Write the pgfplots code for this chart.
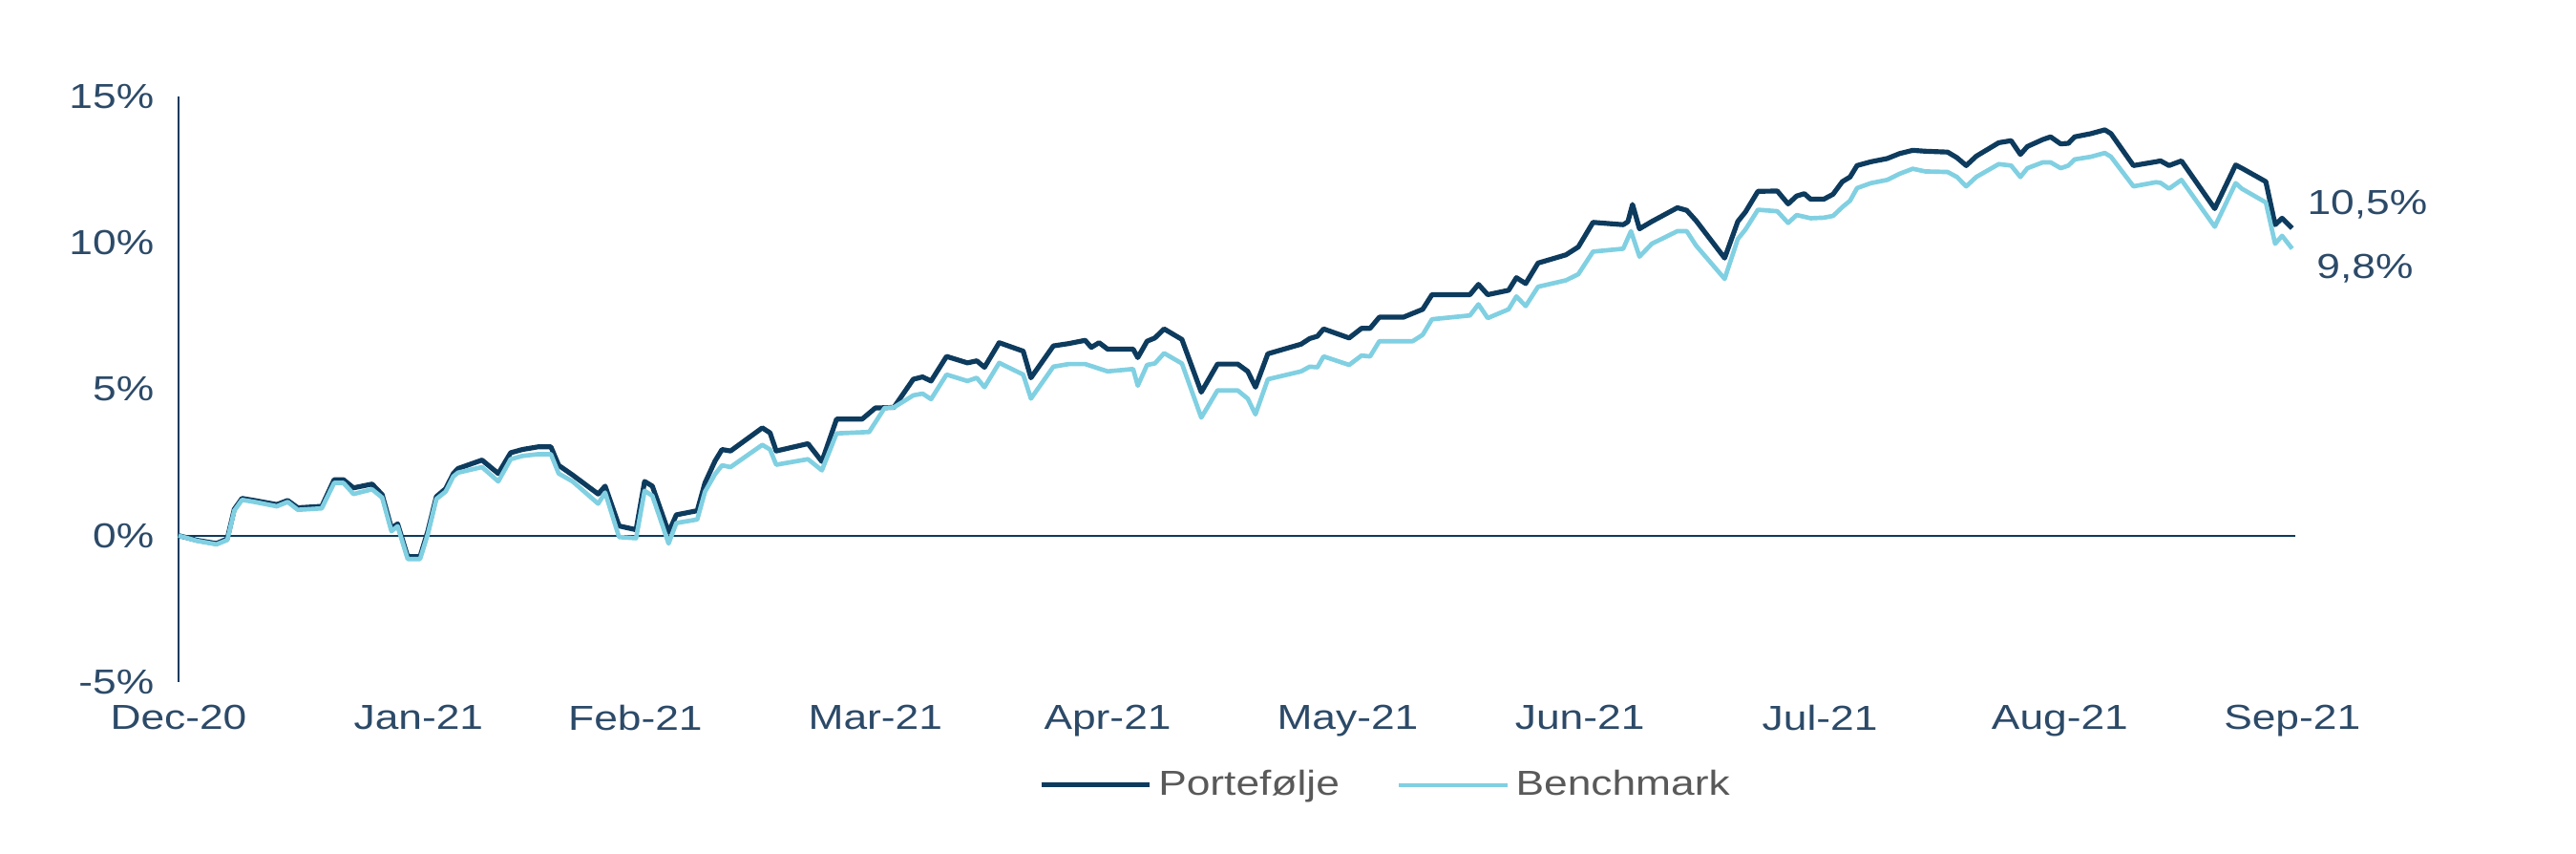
\documentclass[border=0pt]{standalone}
\usepackage{fontspec}
\setmainfont{Liberation Sans}[FakeStretch=1.22]
\usepackage{pgfplots}
\pgfplotsset{compat=1.18}
\definecolor{portcol}{HTML}{0D3B5E}
\definecolor{benchcol}{HTML}{80D0E2}
\definecolor{tickcol}{HTML}{2C4A68}
\definecolor{legcol}{HTML}{595959}
\begin{document}
\begin{tikzpicture}[font=\fontsize{10.9}{13}\selectfont]
\useasboundingbox (-56.1pt,-54pt) rectangle (753.4pt,214.2pt);
\begin{axis}[
  at={(0,0)}, anchor=south west,
  scale only axis, width=664.2pt, height=183.9pt,
  xmin=0, xmax=273, ymin=-5, ymax=15,
  clip=false,
  axis lines*=left,
  x axis line style={draw=none},
  y axis line style={draw=portcol, line width=0.6pt},
  major tick length=0pt,
  xtick={0,31,59,90,120,151,181,212,243,273},
  xticklabels={Dec-20,Jan-21,Feb-21,Mar-21,Apr-21,May-21,Jun-21,Jul-21,Aug-21,Sep-21},
  ytick={-5,0,5,10,15},
  yticklabels={-5\%,0\%,5\%,10\%,15\%},
  /pgf/number format/assume math mode=true,
  every tick label/.append style={text=tickcol, font=\fontsize{10.9}{13}\selectfont},
  xticklabel style={yshift=-3.8pt},
  yticklabel style={xshift=-4.2pt},
  legend columns=2,
  legend style={at={(0.572,0)}, anchor=center, yshift=-32.4pt, draw=none, fill=none,
    text=legcol, font=\fontsize{10.9}{13}\selectfont,
    /tikz/every even column/.append style={column sep=16pt}},
  legend image code/.code={\draw[#1] (0pt,0pt) -- (34pt,0pt);},
]
\addplot[portcol, line width=0.6pt, forget plot] coordinates {(0,0) (273.4,0)};
\addplot[portcol, line width=1.55pt, line join=round] coordinates {
(0,0) (2.4,-0.16) (4.9,-0.27) (6.3,-0.11) (7.2,0.9) (8.2,1.27) (9.8,1.2) (12.7,1.06) (14.1,1.2) (15.4,0.95)
(18.5,1.0) (20.1,1.91) (21.3,1.91) (22.6,1.63) (25.0,1.76) (26.3,1.4) (27.5,0.25) (28.3,0.4) (29.6,-0.72) (31.2,-0.72)
(32.2,0.15) (33.3,1.33) (34.5,1.6) (35.5,2.12) (36.1,2.29) (39.2,2.58) (41.3,2.12) (42.9,2.83) (44.4,2.94) (46.4,3.03)
(48.1,3.03) (49.1,2.40) (50.9,2.07) (54.2,1.42) (55.1,1.69) (56.9,0.33) (59.1,0.2) (60.2,1.85) (61.2,1.69) (63.3,0.11)
(64.3,0.71) (67.0,0.85) (68.0,1.80) (69.3,2.55) (70.2,2.94) (71.3,2.89) (75.4,3.68) (76.4,3.51) (77.2,2.89) (81.3,3.14)
(83.1,2.53) (85.0,3.98) (88.3,3.98) (90.0,4.36) (92.4,4.38) (94.9,5.34) (96.1,5.42) (97.2,5.28) (99.2,6.12) (101.9,5.90)
(103.1,5.97) (104.1,5.75) (106.0,6.59) (109.1,6.30) (110.1,5.39) (113.0,6.48) (115.0,6.56) (117.1,6.67) (117.9,6.43) (118.9,6.59)
(120.0,6.37) (123.3,6.37) (123.9,6.08) (125.1,6.64) (126.1,6.75) (127.3,7.06) (129.6,6.70) (132.1,4.90) (134.2,5.86) (136.8,5.86)
(138.1,5.61) (139.1,5.07) (140.7,6.21) (145.0,6.54) (146.1,6.73) (147.1,6.81) (147.9,7.06) (151.2,6.75) (152.8,7.08) (153.9,7.08)
(155.1,7.46) (158.2,7.46) (160.7,7.73) (161.9,8.23) (166.8,8.23) (167.9,8.58) (169.1,8.23) (171.8,8.38) (172.8,8.81) (174.0,8.61)
(175.6,9.31) (179.2,9.59) (180.8,9.86) (182.7,10.70) (186.6,10.62) (187.2,10.72) (187.8,11.31) (188.7,10.48) (190.3,10.73) (193.6,11.20)
(194.8,11.11) (196.0,10.76) (199.7,9.48) (201.4,10.73) (202.4,11.06) (204.0,11.76) (206.5,11.77) (207.9,11.33) (209.0,11.60) (210.0,11.68)
(210.8,11.49) (212.5,11.49) (213.7,11.66) (214.9,12.09) (215.9,12.25) (216.8,12.64) (218.6,12.77) (220.7,12.88) (222.3,13.05) (224.0,13.16)
(225.6,13.13) (228.5,13.10) (229.7,12.91) (230.9,12.64) (232.2,12.96) (235.1,13.42) (236.7,13.49) (237.9,13.02) (238.8,13.29) (240.8,13.53)
(241.8,13.62) (243.1,13.38) (244.1,13.40) (244.9,13.62) (247.0,13.73) (248.8,13.86) (249.6,13.73) (252.5,12.64) (255.4,12.77) (256.0,12.80)
(257.1,12.64) (258.7,12.80) (263.0,11.17) (265.7,12.66) (266.5,12.55) (269.6,12.09) (270.8,10.62) (271.7,10.84) (273.0,10.5)
};
\addlegendentry{Portefølje}
\addplot[benchcol, line width=1.4pt, line join=round] coordinates {
(0,0) (2.4,-0.18) (4.9,-0.3) (6.3,-0.15) (7.2,0.85) (8.2,1.22) (9.8,1.15) (12.7,1.0) (14.1,1.15) (15.4,0.88)
(18.5,0.93) (20.1,1.80) (21.3,1.8) (22.6,1.42) (25.0,1.58) (26.3,1.3) (27.5,0.15) (28.3,0.32) (29.6,-0.8) (31.2,-0.8)
(32.2,0.05) (33.3,1.25) (34.5,1.5) (35.5,2.02) (36.1,2.15) (39.2,2.34) (41.3,1.85) (42.9,2.61) (44.4,2.72) (46.4,2.78)
(48.1,2.78) (49.1,2.12) (50.9,1.85) (54.2,1.09) (55.1,1.47) (56.9,-0.05) (59.1,-0.09) (60.2,1.53) (61.2,1.36) (63.3,-0.27)
(64.3,0.43) (67.0,0.55) (68.0,1.5) (69.3,2.1) (70.2,2.40) (71.3,2.34) (75.4,3.10) (76.4,2.94) (77.2,2.42) (81.3,2.61)
(83.1,2.23) (85.0,3.49) (89.2,3.54) (91.2,4.36) (92.4,4.38) (94.9,4.79) (96.1,4.85) (97.2,4.66) (99.2,5.50) (101.9,5.28)
(103.1,5.39) (104.1,5.07) (106.0,5.90) (109.1,5.50) (110.1,4.68) (113.0,5.77) (115.0,5.86) (117.1,5.86) (120.0,5.61) (123.3,5.69)
(123.9,5.12) (125.1,5.83) (126.1,5.88) (127.3,6.23) (129.6,5.88) (132.1,4.03) (134.2,4.96) (136.8,4.96) (138.1,4.68) (139.1,4.14)
(140.7,5.34) (145.0,5.61) (146.1,5.77) (147.1,5.75) (147.9,6.12) (151.2,5.83) (152.8,6.15) (153.9,6.12) (155.1,6.64) (159.4,6.64)
(160.7,6.86) (161.9,7.39) (166.8,7.52) (167.9,7.90) (169.1,7.43) (171.8,7.73) (172.8,8.17) (174.0,7.84) (175.6,8.50) (179.2,8.72)
(180.8,8.93) (182.7,9.70) (186.6,9.80) (187.6,10.40) (188.7,9.53) (190.3,9.97) (193.6,10.40) (194.8,10.40) (196.0,9.91) (199.7,8.77)
(201.4,10.13) (202.4,10.46) (204.0,11.13) (206.5,11.08) (207.9,10.68) (209.0,10.95) (210.0,10.89) (210.8,10.84) (212.5,10.86) (213.7,10.92)
(214.9,11.22) (215.9,11.44) (216.8,11.87) (218.6,12.04) (220.7,12.15) (222.3,12.36) (224.0,12.53) (225.6,12.44) (228.5,12.42) (229.7,12.25)
(230.9,11.93) (232.2,12.25) (235.1,12.69) (236.7,12.64) (237.9,12.25) (238.8,12.55) (240.8,12.75) (241.8,12.75) (243.1,12.55) (244.1,12.64)
(244.9,12.85) (247.0,12.94) (248.8,13.07) (249.6,12.94) (252.5,11.93) (255.4,12.07) (256.0,12.05) (257.1,11.85) (258.7,12.15) (263.0,10.55)
(265.7,12.04) (266.5,11.85) (269.6,11.38) (270.8,9.97) (271.7,10.24) (273.0,9.8)
};
\addlegendentry{Benchmark}
\node[text=tickcol, anchor=center] at (axis cs:282.7,11.3) {10,5\%};
\node[text=tickcol, anchor=center] at (axis cs:282.4,9.12) {9,8\%};
\end{axis}
\end{tikzpicture}
\end{document}
